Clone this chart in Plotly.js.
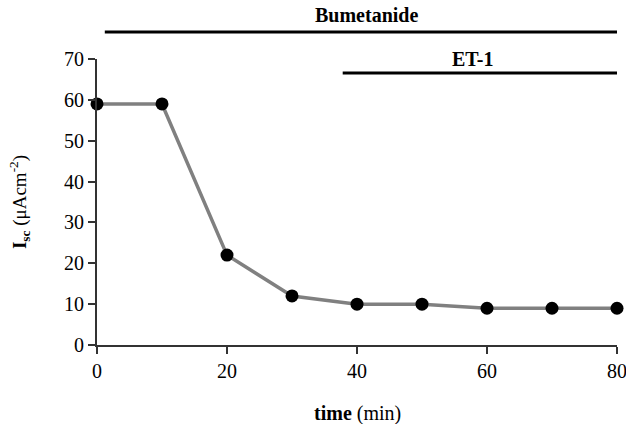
<!DOCTYPE html>
<html>
<head>
<meta charset="utf-8">
<script src="https://cdn.plot.ly/plotly-3.0.1.min.js"></script>
<style>html,body{margin:0;padding:0;background:#fff;}#chart{width:626px;height:424px;}</style>
</head>
<body>
<div id="chart"></div>
<script>
// Data
var timeMin = [0, 10, 20, 30, 40, 50, 60, 70, 80];
var iscValues = [59, 59, 22, 12, 10, 10, 9, 9, 9];
var xTicks = [0, 20, 40, 60, 80];
var yTicks = [0, 10, 20, 30, 40, 50, 60, 70];
// Treatment periods (minutes)
var treatmentNames = ['Bumetanide', 'ET-1'];
var treatmentStart = [1.2, 37.8];
var treatmentEnd = [81.5, 80.8];
var treatmentLabelX = [41.5, 57.8];

var FONT = '"Liberation Serif", "Times New Roman", serif';
var trace = {
  x: timeMin, y: iscValues, type: 'scatter', mode: 'lines+markers',
  line: {color: '#808080', width: 3.5},
  marker: {color: '#000', size: 13},
  cliponaxis: false, showlegend: false, hoverinfo: 'none'
};

var barY = [1.094, 0.951];
var labelY = [1.154, 1.0];
var shapes = [], annotations = [];
for (var i = 0; i < treatmentNames.length; i++) {
  shapes.push({type: 'line', xref: 'x', yref: 'paper', x0: treatmentStart[i], x1: treatmentEnd[i],
    y0: barY[i], y1: barY[i], line: {color: '#000', width: 3}});
  annotations.push({xref: 'x', yref: 'paper', x: treatmentLabelX[i],
    y: labelY[i], text: '<b>' + treatmentNames[i] + '</b>', showarrow: false,
    font: {family: FONT, size: 20, color: '#000'}, yanchor: 'middle', xanchor: 'center'});
}
// x-axis title placed as annotation for exact position
annotations.push({xref: 'paper', yref: 'paper', x: 0.5, y: -0.238, yanchor: 'middle', xanchor: 'center',
  text: '<b>time</b> (min)', showarrow: false, font: {family: FONT, size: 20, color: '#000'}});

var layout = {
  width: 626, height: 424,
  margin: {l: 97, r: 9, t: 59, b: 79},
  paper_bgcolor: '#fff', plot_bgcolor: '#fff',
  font: {family: FONT, size: 20, color: '#000'},
  xaxis: {
    range: [0, 80], tickvals: xTicks, ticks: 'outside', ticklen: 7, tickwidth: 2, tickcolor: '#333',
    showline: true, linecolor: '#333', linewidth: 2, showgrid: false, zeroline: false,
    ticklabeloverflow: 'allow',
    tickfont: {family: FONT, size: 20, color: '#000'}
  },
  yaxis: {
    range: [0, 70], tickvals: yTicks, ticks: 'outside', ticklen: 7, tickwidth: 2, tickcolor: '#333',
    showline: true, linecolor: '#333', linewidth: 2, showgrid: false, zeroline: false,
    tickfont: {family: FONT, size: 20, color: '#000'},
    title: {text: '<b>I</b><sub><b>sc</b></sub> (μAcm<sup>-2</sup>)', font: {family: FONT, size: 19, color: '#000'}, standoff: 32}
  },
  shapes: shapes,
  annotations: annotations
};

Plotly.newPlot('chart', [trace], layout, {displayModeBar: false, staticPlot: true});
</script>
</body>
</html>
